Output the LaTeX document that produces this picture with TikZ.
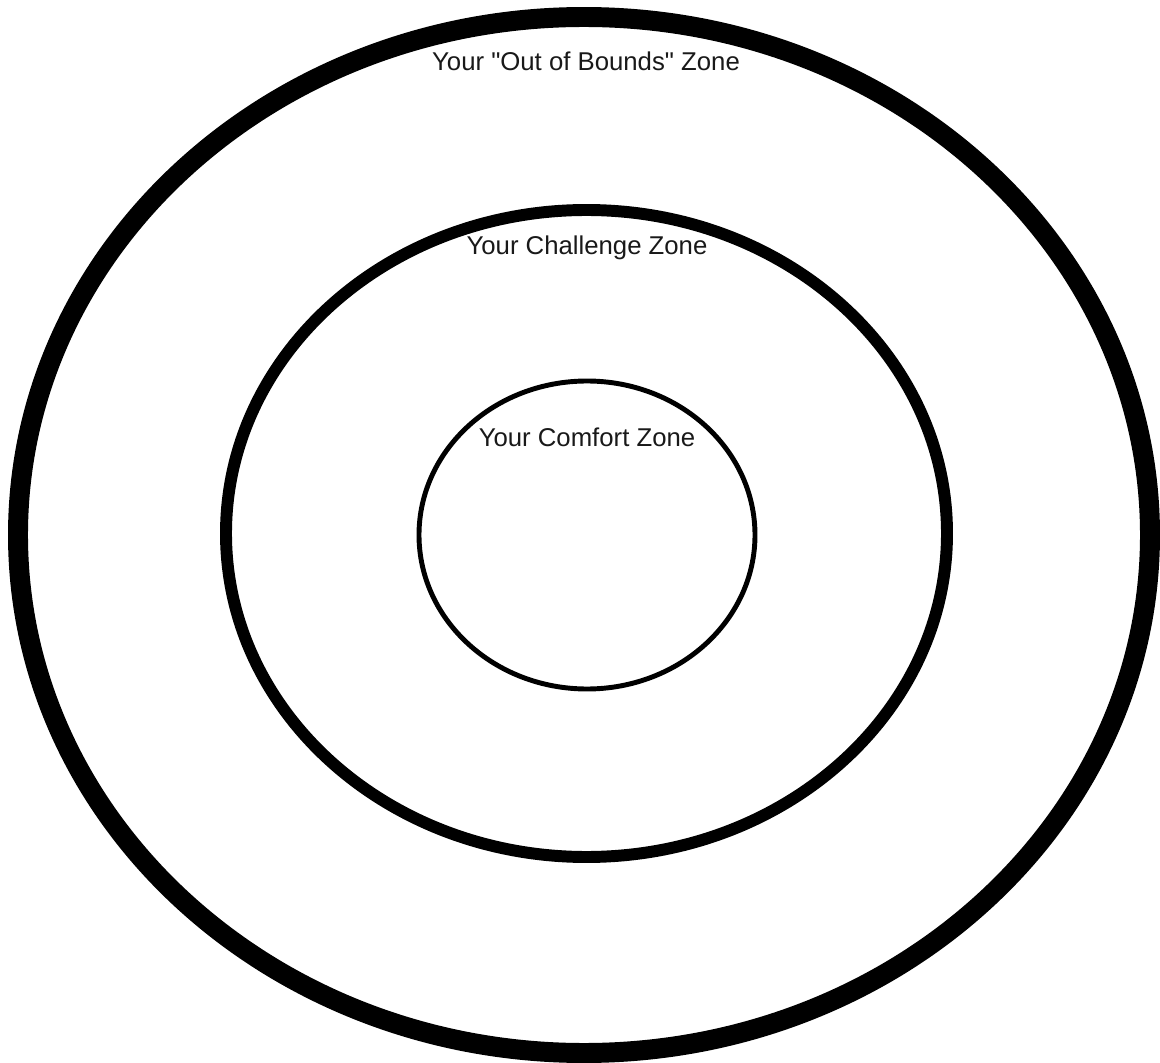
\documentclass[tikz,border=0pt]{standalone}
\usepackage{fontspec}
\setmainfont{Liberation Sans}
\usetikzlibrary{shapes.geometric}
\tikzset{
  zonering/.style={draw=black,ellipse,inner sep=0pt,outer sep=0pt},
  zonelabel/.style={font=\fontsize{18.3}{21}\selectfont,text=black!90,inner sep=0pt}
}

\begin{document}
\begin{tikzpicture}[x=0.025cm,y=-0.025cm]
  \useasboundingbox[fill=white] (0,0) rectangle (1160,1063);
  \node[zonering,line width=14.2pt,minimum width=1132*0.025cm,minimum height=1036*0.025cm] (outer) at (584,535) {};
  \node[zonering,line width=8.5pt,minimum width=721*0.025cm,minimum height=647*0.025cm] (middle) at (586.5,533.5) {};
  \node[zonering,line width=3.5pt,minimum width=336*0.025cm,minimum height=308*0.025cm] (inner) at (587,535) {};
  \node[zonelabel] (outerlabel) at (586,61) {Your \textquotedbl Out of Bounds\textquotedbl{} Zone};
  \node[zonelabel] (middlelabel) at (587,248) {Your Challenge Zone};
  \node[zonelabel] (innerlabel) at (587,437) {Your Comfort Zone};
\end{tikzpicture}
\end{document}
